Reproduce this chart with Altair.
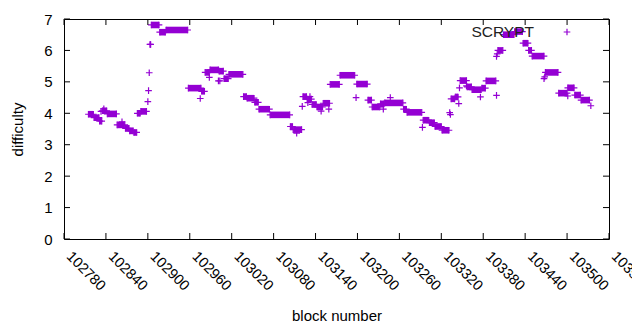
import altair as alt
import pandas as pd

# Runs of constant difficulty (first block, last block, difficulty)
run_start = [102815, 102823, 102831, 102835, 102842, 102856, 102868, 102874, 102880, 102885,
             102890, 102903, 102905, 102917, 102926, 102958, 102977, 102982, 102989, 103002,
             103009, 103016, 103037, 103042, 103053, 103059, 103075, 103104, 103108, 103122,
             103128, 103135, 103142, 103151, 103161, 103175, 103199, 103215, 103221, 103233,
             103239, 103266, 103271, 103294, 103303, 103311, 103321, 103334, 103340, 103347,
             103357, 103364, 103378, 103384, 103401, 103409, 103425, 103437, 103445, 103450,
             103469, 103488, 103501, 103511, 103520]
run_end = [102822, 102830, 102834, 102841, 102855, 102867, 102873, 102879, 102884, 102889,
           102898, 102904, 102916, 102925, 102957, 102976, 102981, 102988, 103001, 103008,
           103015, 103036, 103041, 103052, 103058, 103074, 103103, 103107, 103120, 103127,
           103134, 103141, 103150, 103160, 103174, 103196, 103214, 103220, 103232, 103238,
           103265, 103270, 103292, 103302, 103310, 103320, 103331, 103339, 103344, 103356,
           103363, 103377, 103383, 103398, 103408, 103424, 103436, 103444, 103449, 103467,
           103487, 103500, 103510, 103519, 103532]
run_val = [3.97, 3.86, 3.75, 4.08, 3.98, 3.63, 3.52, 3.44, 3.39, 4.00,
           4.06, 6.19, 6.81, 6.58, 6.65, 4.80, 4.70, 5.30, 5.38, 5.34,
           5.10, 5.24, 4.53, 4.48, 4.35, 4.13, 3.95, 3.58, 3.48, 4.53,
           4.45, 4.28, 4.20, 4.32, 4.92, 5.21, 4.93, 4.42, 4.20, 4.30,
           4.33, 4.13, 4.03, 3.78, 3.70, 3.58, 3.46, 4.46, 4.52, 5.04,
           4.84, 4.75, 4.80, 5.03, 6.00, 6.50, 6.60, 6.23, 6.00, 5.82,
           5.30, 4.64, 4.81, 4.58, 4.42]

# Isolated blocks
pt_block = [102837, 102833, 102863, 102900, 102901, 102902, 102975, 102988, 103001, 103003,
            103113, 103121, 103129, 103132, 103148, 103159, 103198, 103237, 103247, 103293,
            103332, 103333, 103345, 103346, 103356, 103376, 103399, 103399, 103400, 103467,
            103468, 103501, 103534]
pt_val = [4.14, 4.06, 3.73, 4.37, 4.72, 5.29, 4.47, 5.14, 5.03, 5.03,
          3.37, 4.22, 4.34, 4.53, 4.07, 4.13, 4.50, 4.13, 4.50, 3.55,
          4.02, 3.96, 4.31, 4.81, 4.87, 4.52, 4.57, 5.81, 5.89, 5.10,
          5.16, 4.55, 4.24]

x_ticks = [102780 + 60 * i for i in range(14)]
y_ticks = [0, 1, 2, 3, 4, 5, 6, 7]

W, H = 545, 220
COLOR = "#9400d3"
FONT = "Liberation Sans"
CROSS = "M-1,0H1M0,-1V1"

runs = pd.DataFrame({"start": run_start, "end": run_end, "difficulty": run_val})
pts = pd.DataFrame({
    "block": run_start + run_end + pt_block,
    "difficulty": run_val + run_val + pt_val,
})

xs = alt.Scale(domain=[x_ticks[0], x_ticks[-1]], nice=False, zero=False)
ys = alt.Scale(domain=[0, 7], nice=False, zero=True)

x_axis = alt.Axis(values=x_ticks, labelAngle=45, labelAlign="left", labelBaseline="top",
                  labelPadding=10, labelOffset=9, ticks=False, domain=False, grid=False,
                  labelFont=FONT, labelFontSize=14.5, labelColor="black",
                  title="block number", titleFont=FONT, titleFontSize=15,
                  titleFontWeight="normal", titleColor="black", titlePadding=16,
                  format="d", labelOverlap=False, labelFlush=False)
y_axis = alt.Axis(values=y_ticks, ticks=False, domain=False, grid=False,
                  labelFont=FONT, labelFontSize=15, labelColor="black", labelPadding=12,
                  labelOverlap=False, labelFlush=False,
                  title="difficulty", titleFont=FONT, titleFontSize=15,
                  titleFontWeight="normal", titleColor="black", titlePadding=18)

bars = alt.Chart(runs).mark_rule(color=COLOR, strokeWidth=6.6, strokeCap="butt").encode(
    x=alt.X("start:Q", scale=xs, axis=x_axis, title="block number"),
    x2="end:Q",
    y=alt.Y("difficulty:Q", scale=ys, axis=y_axis, title="difficulty"),
)

crosses = alt.Chart(pts).mark_point(shape=CROSS, filled=False, color=COLOR,
                                    strokeWidth=1.2, size=44, opacity=1).encode(
    x=alt.X("block:Q", scale=xs, axis=x_axis, title="block number"),
    y=alt.Y("difficulty:Q", scale=ys, axis=y_axis, title="difficulty"),
)

ytk = pd.DataFrame({"v": y_ticks})
xtk = pd.DataFrame({"v": x_ticks})
tick_l = alt.Chart(ytk).mark_rule(color="black").encode(
    y=alt.Y("v:Q", scale=ys, axis=y_axis, title="difficulty"), x=alt.value(0), x2=alt.value(6))
tick_r = alt.Chart(ytk).mark_rule(color="black").encode(
    y=alt.Y("v:Q", scale=ys, axis=y_axis, title="difficulty"), x=alt.value(W - 6), x2=alt.value(W))
tick_b = alt.Chart(xtk).mark_rule(color="black").encode(
    x=alt.X("v:Q", scale=xs, axis=x_axis, title="block number"), y=alt.value(H - 6), y2=alt.value(H))
tick_t = alt.Chart(xtk).mark_rule(color="black").encode(
    x=alt.X("v:Q", scale=xs, axis=x_axis, title="block number"), y=alt.value(0), y2=alt.value(6))

key_text = alt.Chart(pd.DataFrame({"t": ["SCRYPT"]})).mark_text(
    font=FONT, fontSize=15.5, align="right", baseline="middle", color="#222222"
).encode(text="t:N", x=alt.value(470), y=alt.value(13))
key_pt = alt.Chart(pd.DataFrame({"t": ["SCRYPT"]})).mark_point(
    shape=CROSS, filled=False, color=COLOR, strokeWidth=1.2, size=44, opacity=1
).encode(x=alt.value(503), y=alt.value(13))

chart = alt.layer(bars, crosses, tick_l, tick_r, tick_b, tick_t, key_text, key_pt).properties(
    width=W, height=H,
    autosize=alt.AutoSizeParams(type="none"),
    padding={"left": 56, "top": 11, "right": 23, "bottom": 85},
).configure_view(stroke="black", strokeWidth=1)

chart.save("out.html", embed_options={"renderer": "svg", "actions": False})
